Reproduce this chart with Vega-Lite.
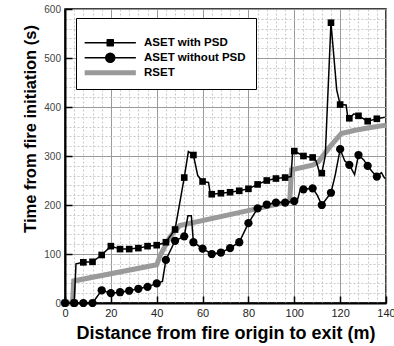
{
  "$schema": "https://vega.github.io/schema/vega-lite/v6.json",
  "width": 321,
  "height": 294,
  "autosize": {"type": "none"},
  "padding": {"left": 65, "top": 9, "right": 8, "bottom": 43},
  "background": "white",
  "config": {
    "view": {"stroke": "black", "strokeWidth": 1.5},
    "font": "Liberation Sans"
  },
  "data": {
    "values": [
      {"s": "ASET with PSD", "x": 0, "y": 0},
      {"s": "ASET with PSD", "x": 4, "y": 0},
      {"s": "ASET with PSD", "x": 4.8, "y": 80},
      {"s": "ASET with PSD", "x": 8, "y": 83},
      {"s": "ASET with PSD", "x": 12, "y": 84},
      {"s": "ASET with PSD", "x": 16, "y": 98},
      {"s": "ASET with PSD", "x": 20, "y": 116},
      {"s": "ASET with PSD", "x": 24, "y": 110},
      {"s": "ASET with PSD", "x": 28, "y": 110},
      {"s": "ASET with PSD", "x": 32, "y": 112},
      {"s": "ASET with PSD", "x": 36, "y": 116},
      {"s": "ASET with PSD", "x": 40, "y": 118},
      {"s": "ASET with PSD", "x": 44, "y": 124},
      {"s": "ASET with PSD", "x": 48, "y": 150},
      {"s": "ASET with PSD", "x": 52, "y": 256},
      {"s": "ASET with PSD", "x": 53.8, "y": 309},
      {"s": "ASET with PSD", "x": 56, "y": 302},
      {"s": "ASET with PSD", "x": 57.9, "y": 260},
      {"s": "ASET with PSD", "x": 60, "y": 248},
      {"s": "ASET with PSD", "x": 62.6, "y": 246},
      {"s": "ASET with PSD", "x": 63.4, "y": 222},
      {"s": "ASET with PSD", "x": 64, "y": 222},
      {"s": "ASET with PSD", "x": 68, "y": 224},
      {"s": "ASET with PSD", "x": 72, "y": 226},
      {"s": "ASET with PSD", "x": 76, "y": 229},
      {"s": "ASET with PSD", "x": 80, "y": 233},
      {"s": "ASET with PSD", "x": 84, "y": 242},
      {"s": "ASET with PSD", "x": 88, "y": 250},
      {"s": "ASET with PSD", "x": 92, "y": 254},
      {"s": "ASET with PSD", "x": 96, "y": 256},
      {"s": "ASET with PSD", "x": 98.6, "y": 258},
      {"s": "ASET with PSD", "x": 99.3, "y": 310},
      {"s": "ASET with PSD", "x": 100, "y": 310},
      {"s": "ASET with PSD", "x": 104, "y": 300},
      {"s": "ASET with PSD", "x": 108, "y": 297},
      {"s": "ASET with PSD", "x": 109.5, "y": 290},
      {"s": "ASET with PSD", "x": 111, "y": 266},
      {"s": "ASET with PSD", "x": 112, "y": 265},
      {"s": "ASET with PSD", "x": 113.5, "y": 300},
      {"s": "ASET with PSD", "x": 116, "y": 572},
      {"s": "ASET with PSD", "x": 118.5, "y": 435},
      {"s": "ASET with PSD", "x": 120, "y": 405},
      {"s": "ASET with PSD", "x": 122.6, "y": 404},
      {"s": "ASET with PSD", "x": 123.3, "y": 380},
      {"s": "ASET with PSD", "x": 124, "y": 377},
      {"s": "ASET with PSD", "x": 126, "y": 386},
      {"s": "ASET with PSD", "x": 128, "y": 382},
      {"s": "ASET with PSD", "x": 132, "y": 371},
      {"s": "ASET with PSD", "x": 136, "y": 376},
      {"s": "ASET with PSD", "x": 139.5, "y": 379},
      {"s": "ASET without PSD", "x": 0, "y": 0},
      {"s": "ASET without PSD", "x": 4, "y": 0},
      {"s": "ASET without PSD", "x": 8, "y": 0},
      {"s": "ASET without PSD", "x": 12, "y": 0},
      {"s": "ASET without PSD", "x": 16, "y": 26},
      {"s": "ASET without PSD", "x": 20, "y": 20},
      {"s": "ASET without PSD", "x": 24, "y": 22},
      {"s": "ASET without PSD", "x": 28, "y": 25},
      {"s": "ASET without PSD", "x": 32, "y": 29},
      {"s": "ASET without PSD", "x": 36, "y": 33},
      {"s": "ASET without PSD", "x": 40, "y": 40},
      {"s": "ASET without PSD", "x": 42.5, "y": 44},
      {"s": "ASET without PSD", "x": 44, "y": 88},
      {"s": "ASET without PSD", "x": 48, "y": 127},
      {"s": "ASET without PSD", "x": 52, "y": 136},
      {"s": "ASET without PSD", "x": 53.6, "y": 178},
      {"s": "ASET without PSD", "x": 55.1, "y": 178},
      {"s": "ASET without PSD", "x": 56, "y": 124},
      {"s": "ASET without PSD", "x": 60, "y": 111},
      {"s": "ASET without PSD", "x": 64, "y": 100},
      {"s": "ASET without PSD", "x": 68, "y": 103},
      {"s": "ASET without PSD", "x": 72, "y": 112},
      {"s": "ASET without PSD", "x": 76, "y": 124},
      {"s": "ASET without PSD", "x": 80, "y": 163},
      {"s": "ASET without PSD", "x": 84, "y": 193},
      {"s": "ASET without PSD", "x": 88, "y": 201},
      {"s": "ASET without PSD", "x": 92, "y": 205},
      {"s": "ASET without PSD", "x": 96, "y": 205},
      {"s": "ASET without PSD", "x": 100, "y": 208},
      {"s": "ASET without PSD", "x": 101.5, "y": 212},
      {"s": "ASET without PSD", "x": 102.5, "y": 230},
      {"s": "ASET without PSD", "x": 104, "y": 232},
      {"s": "ASET without PSD", "x": 108, "y": 234},
      {"s": "ASET without PSD", "x": 110, "y": 220},
      {"s": "ASET without PSD", "x": 112, "y": 200},
      {"s": "ASET without PSD", "x": 116, "y": 225},
      {"s": "ASET without PSD", "x": 117.8, "y": 260},
      {"s": "ASET without PSD", "x": 120, "y": 314},
      {"s": "ASET without PSD", "x": 122, "y": 290},
      {"s": "ASET without PSD", "x": 124, "y": 282},
      {"s": "ASET without PSD", "x": 126.3, "y": 262},
      {"s": "ASET without PSD", "x": 128, "y": 302},
      {"s": "ASET without PSD", "x": 130.3, "y": 292},
      {"s": "ASET without PSD", "x": 132, "y": 280},
      {"s": "ASET without PSD", "x": 134, "y": 268},
      {"s": "ASET without PSD", "x": 136, "y": 258},
      {"s": "ASET without PSD", "x": 138, "y": 266},
      {"s": "ASET without PSD", "x": 139.5, "y": 254},
      {"s": "RSET", "x": 0, "y": 0},
      {"s": "RSET", "x": 3.3, "y": 0},
      {"s": "RSET", "x": 3.8, "y": 45},
      {"s": "RSET", "x": 40, "y": 78},
      {"s": "RSET", "x": 41.5, "y": 97},
      {"s": "RSET", "x": 45.8, "y": 135},
      {"s": "RSET", "x": 50, "y": 158},
      {"s": "RSET", "x": 98, "y": 207},
      {"s": "RSET", "x": 98.8, "y": 272},
      {"s": "RSET", "x": 108.3, "y": 282},
      {"s": "RSET", "x": 110.5, "y": 288},
      {"s": "RSET", "x": 115.6, "y": 319},
      {"s": "RSET", "x": 120.5, "y": 346},
      {"s": "RSET", "x": 126, "y": 352},
      {"s": "RSET", "x": 132, "y": 357},
      {"s": "RSET", "x": 140, "y": 363}
    ]
  },
  "encoding": {
    "x": {
      "field": "x", "type": "quantitative",
      "scale": {"domain": [0, 140], "nice": false},
      "axis": {
        "values": [0,4,8,12,16,20,24,28,32,36,40,44,48,52,56,60,64,68,72,76,80,84,88,92,96,100,104,108,112,116,120,124,128,132,136,140],
        "labelExpr": "datum.value % 20 === 0 ? datum.label : ''",
        "labelOverlap": false, "labelFlush": false,
        "labelFontSize": 11, "labelColor": "#222222", "labelPadding": 11,
        "grid": true,
        "gridColor": {"condition": {"test": "datum.value % 20 === 0", "value": "#9a9a9a"}, "value": "#c8c8c8"},
        "gridDash": {"condition": {"test": "datum.value % 20 === 0", "value": []}, "value": [2, 2]},
        "gridWidth": 1,
        "tickSize": -7, "tickWidth": 1.5,
        "tickColor": {"condition": {"test": "datum.value % 20 === 0", "value": "black"}, "value": "transparent"},
        "domainColor": "black", "domainWidth": 2,
        "title": "Distance from fire origin to exit (m)",
        "titleFontSize": 18, "titleFontWeight": "bold", "titleColor": "black",
        "titleBaseline": "alphabetic", "titleY": 35
      }
    },
    "y": {
      "field": "y", "type": "quantitative",
      "scale": {"domain": [0, 600], "nice": false},
      "axis": {
        "values": [0,20,40,60,80,100,120,140,160,180,200,220,240,260,280,300,320,340,360,380,400,420,440,460,480,500,520,540,560,580,600],
        "labelExpr": "datum.value % 100 === 0 ? datum.label : ''",
        "labelOverlap": false, "labelFlush": false,
        "labelFontSize": 10, "labelColor": "#444444", "labelPadding": 11.5,
        "grid": true,
        "gridColor": {"condition": {"test": "datum.value % 100 === 0", "value": "#9a9a9a"}, "value": "#c8c8c8"},
        "gridDash": {"condition": {"test": "datum.value % 100 === 0", "value": []}, "value": [2, 2]},
        "gridWidth": 1,
        "tickSize": -7, "tickWidth": 1.5,
        "tickColor": {"condition": {"test": "datum.value % 100 === 0", "value": "black"}, "value": "transparent"},
        "domainColor": "black", "domainWidth": 2,
        "title": "Time from fire initiation (s)",
        "titleFontSize": 16.5, "titleFontWeight": "bold", "titleColor": "black",
        "titleBaseline": "alphabetic", "titleX": -30, "titleY": 119.5, "titleAngle": 270
      }
    }
  },
  "layer": [
    {
      "transform": [{"filter": "datum.s === 'RSET'"}],
      "mark": {"type": "line", "strokeWidth": 5},
      "encoding": {
        "color": {
          "field": "s", "type": "nominal",
          "scale": {"domain": ["ASET with PSD", "ASET without PSD", "RSET"], "range": ["black", "black", "#9a9a9a"]},
          "legend": {
            "title": " ", "titleFontSize": 5, "titlePadding": 4,
            "orient": "none", "legendX": 11, "legendY": 9,
            "fillColor": "white", "strokeColor": "black", "padding": 10,
            "gridAlign": "all",
            "symbolSize": 64, "symbolStrokeWidth": 1.5, "symbolOffset": 18.5, "labelOffset": 28,
            "labelFont": "Liberation Sans", "labelFontSize": 11.5, "labelFontWeight": "bold", "labelColor": "black",
            "rowPadding": 2, "labelLimit": 200,
            "encode": {"symbols": {"update": {
              "shape": {"signal": "datum.value === 'ASET with PSD' ? 'M-6.4,0H6.4M-0.75,-0.75H0.75V0.75H-0.75Z' : datum.value === 'ASET without PSD' ? 'M-6.4,0H6.4M-1.125,0A1.125,1.125,0,1,1,1.125,0A1.125,1.125,0,1,1,-1.125,0Z' : 'M-6.4,0H6.4'"},
              "stroke": {"signal": "datum.value === 'RSET' ? '#9a9a9a' : 'black'"},
              "fill": {"signal": "datum.value === 'RSET' ? 'transparent' : 'black'"},
              "strokeWidth": {"signal": "datum.value === 'RSET' ? 5 : 1.5"},
              "strokeJoin": {"value": "round"},
              "size": {"value": 64},
              "opacity": {"value": 1}
            }}}
          }
        }
      }
    },
    {
      "transform": [{"filter": "datum.s !== 'RSET'"}],
      "mark": {"type": "line", "strokeWidth": 1.5},
      "encoding": {
        "color": {
          "field": "s", "type": "nominal",
          "scale": {"domain": ["ASET with PSD", "ASET without PSD", "RSET"], "range": ["black", "black", "#9a9a9a"]}
        }
      }
    },
    {
      "transform": [{"filter": "datum.s === 'ASET with PSD' && datum.x % 4 === 0"}],
      "mark": {"type": "point", "filled": true, "opacity": 1, "color": "black", "shape": "square", "size": 44}
    },
    {
      "transform": [{"filter": "datum.s === 'ASET without PSD' && datum.x % 4 === 0"}],
      "mark": {"type": "point", "filled": true, "opacity": 1, "color": "black", "shape": "circle", "size": 68}
    }
  ]
}
